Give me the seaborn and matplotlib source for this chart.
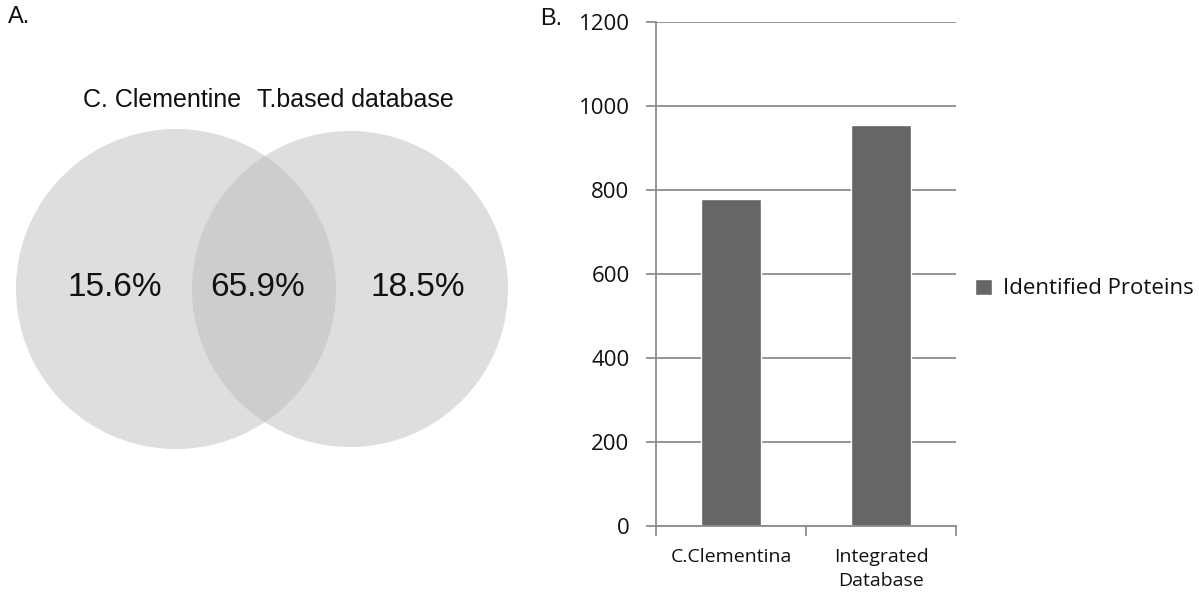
import matplotlib
matplotlib.use("Agg")
import matplotlib.pyplot as plt
from matplotlib.patches import Circle
from matplotlib.ticker import FixedLocator
import pandas as pd
import seaborn as sns

# Panel A: Venn percentages
venn_sets = ["C. Clementine", "T.based database"]
venn_pcts = ["15.6%", "65.9%", "18.5%"]  # left only, shared, right only

# Panel B: identified proteins
categories = ["C.Clementina", "Integrated\nDatabase"]
proteins = [778, 954]
series_name = "Identified Proteins"
y_ticks = [0, 200, 400, 600, 800, 1000, 1200]

sns.set_style("white")
plt.rcParams["font.family"] = ["Liberation Sans", "DejaVu Sans"]
plt.rcParams["text.color"] = "#111111"
plt.rcParams["xtick.color"] = "#111111"
plt.rcParams["ytick.color"] = "#111111"

W, H = 1199, 592
fig = plt.figure(figsize=(W / 100, H / 100), dpi=100)

# ---- Venn diagram (pixel coords) ----
axv = fig.add_axes([0, 0, 535 / W, 1])
axv.set_xlim(0, 535)
axv.set_ylim(H, 0)
axv.set_aspect("equal")
axv.axis("off")

left_c = (176, 289, 160)
right_c = (350, 289, 158)
grey = "#dedede"
shared = "#cdcdcd"
c1 = Circle(left_c[:2], left_c[2], facecolor=grey, edgecolor="none")
c2 = Circle(right_c[:2], right_c[2], facecolor=grey, edgecolor="none")
axv.add_patch(c1)
axv.add_patch(c2)
# overlap: second circle clipped to the first
c3 = Circle(right_c[:2], right_c[2], facecolor=shared, edgecolor="none")
axv.add_patch(c3)
c3.set_clip_path(c1)

axv.text(162, 100, venn_sets[0], fontsize=18, ha="center", va="center")
axv.text(355, 100, venn_sets[1], fontsize=18, ha="center", va="center")
for x, txt in zip([115, 258, 418], venn_pcts):
    axv.text(x, 288, txt, fontsize=24, ha="center", va="center")

fig.text(8 / W, 1 - 17 / H, "A.", fontsize=17, va="center", ha="left")
fig.text(540 / W, 1 - 19 / H, "B.", fontsize=17, va="center", ha="left")

# ---- Bar chart ----
ax = fig.add_axes([656 / W, 1 - 526 / H, 300 / W, 504 / H])
df = pd.DataFrame({"category": categories, "count": proteins})
sns.barplot(data=df, x="category", y="count", color="#666666", width=0.4,
            saturation=1, ax=ax, label=series_name)

ax.set_ylim(0, 1200)
ax.set_xlim(-0.5, 1.5)
ax.set_yticks(y_ticks)
ax.yaxis.grid(True, color="#8c8c8c", linewidth=1.3)
ax.set_axisbelow(True)
for s in ["top", "right"]:
    ax.spines[s].set_visible(False)
for s in ["left", "bottom"]:
    ax.spines[s].set_color("#8c8c8c")
    ax.spines[s].set_linewidth(1.3)

ax.set_xlabel("")
ax.set_ylabel("")
ax.tick_params(axis="y", left=True, length=7, width=1.3, color="#8c8c8c",
               pad=12, labelsize=16)
ax.tick_params(axis="x", which="major", bottom=False, pad=12, labelsize=14)
ax.xaxis.set_minor_locator(FixedLocator([-0.5, 0.5, 1.5]))
ax.tick_params(axis="x", which="minor", bottom=True, length=7, width=1.3,
               color="#8c8c8c")
for lab in ax.get_yticklabels():
    lab.set_family(["Open Sans", "DejaVu Sans"])
ax.set_xticks([0, 1])
ax.set_xticklabels(categories, family=["Open Sans", "DejaVu Sans"], fontsize=14,
                   linespacing=1.45, va="top")

leg = ax.legend(loc="center left", bbox_to_anchor=(1.02, 1 - (289 - 22) / 504),
                frameon=False, handlelength=0.75, handleheight=0.75,
                handletextpad=0.5, borderaxespad=0.2,
                prop={"family": ["Open Sans", "DejaVu Sans"], "size": 16})

fig.savefig("out.png", dpi=100)
